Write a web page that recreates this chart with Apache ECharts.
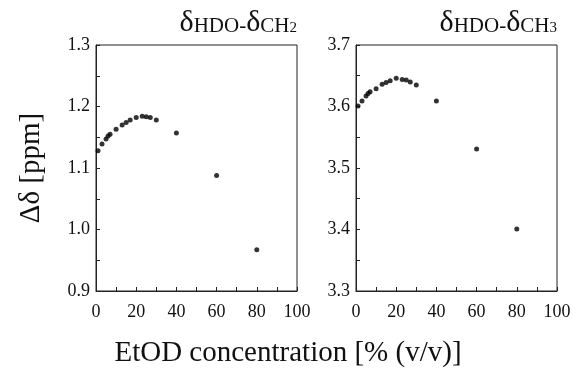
<!DOCTYPE html>
<html>
<head>
<meta charset="utf-8">
<script src="https://cdn.jsdelivr.net/npm/echarts@6/dist/echarts.min.js"></script>
<style>
  html, body { margin: 0; padding: 0; background: #fff; }
  #chart { width: 576px; height: 375px; }
</style>
</head>
<body>
<div id="chart"></div>
<script>
// EtOD concentration, % (v/v)
var concentration = [1, 3, 5, 6, 7, 10, 13, 15, 17, 20, 23, 25, 27, 30, 40, 60, 80];
// delta HDO - delta CH2 (ppm)
var shiftCH2 = [1.128, 1.139, 1.147, 1.152, 1.155, 1.163, 1.170, 1.174, 1.178, 1.182,
                1.184, 1.1835, 1.182, 1.178, 1.157, 1.088, 0.967];
// delta HDO - delta CH3 (ppm)
var shiftCH3 = [3.601, 3.609, 3.617, 3.621, 3.624, 3.629, 3.636, 3.639, 3.642, 3.646,
                3.644, 3.643, 3.640, 3.635, 3.609, 3.531, 3.401];
var xTicks = [0, 20, 40, 60, 80, 100];
var yRangeCH2 = [0.9, 1.3];
var yRangeCH3 = [3.3, 3.7];

var serif = "'Liberation Serif', 'DejaVu Serif', serif";
var ink = '#222';

function pairs(xs, ys) {
  var out = [];
  for (var i = 0; i < xs.length; i++) { out.push([xs[i], ys[i]]); }
  return out;
}

function xAxisFor(gridIndex) {
  return {
    type: 'value', gridIndex: gridIndex,
    min: xTicks[0], max: xTicks[xTicks.length - 1], interval: 20,
    axisLine: { show: true, lineStyle: { color: ink, width: 1 } },
    axisTick: { show: true, inside: true, length: 4, lineStyle: { color: ink } },
    minorTick: { show: true, splitNumber: 2, length: 4, lineStyle: { color: ink } },
    splitLine: { show: false },
    axisLabel: { color: '#111', fontFamily: serif, fontSize: 18, margin: 12 }
  };
}

function yAxisFor(gridIndex, range) {
  return {
    type: 'value', gridIndex: gridIndex,
    min: range[0], max: range[1], interval: 0.1,
    axisLine: { show: true, lineStyle: { color: ink, width: 1 } },
    axisTick: { show: true, inside: true, length: 4, lineStyle: { color: ink } },
    minorTick: { show: true, splitNumber: 2, length: 4, lineStyle: { color: ink } },
    splitLine: { show: false },
    axisLabel: {
      color: '#111', fontFamily: serif, fontSize: 18, margin: 6,
      formatter: function (v) { return v.toFixed(1); }
    }
  };
}

var titleRich = {
  d: { fontFamily: serif, fontSize: 30, fontWeight: 'normal', color: '#111' },
  s: { fontFamily: serif, fontSize: 21, fontWeight: 'normal', color: '#111', padding: [6, 0, 0, 0] },
  sub: { fontFamily: serif, fontSize: 15, fontWeight: 'normal', color: '#111', padding: [10, 0, 0, 0] }
};

var chart = echarts.init(document.getElementById('chart'));
chart.setOption({
  backgroundColor: '#fff',
  animation: false,
  title: [
    { text: '{d|δ}{s|HDO-}{d|δ}{s|CH}{sub|2}', right: 279, top: 8, padding: 0,
      textStyle: { fontWeight: 'normal', rich: titleRich } },
    { text: '{d|δ}{s|HDO-}{d|δ}{s|CH}{sub|3}', right: 19, top: 8, padding: 0,
      textStyle: { fontWeight: 'normal', rich: titleRich } }
  ],
  grid: [
    { left: 96, width: 201, top: 45, height: 246, show: true, borderColor: ink, borderWidth: 1 },
    { left: 356, width: 201, top: 45, height: 246, show: true, borderColor: ink, borderWidth: 1 }
  ],
  xAxis: [xAxisFor(0), xAxisFor(1)],
  yAxis: [
    Object.assign(yAxisFor(0, yRangeCH2), {
      name: 'Δδ [ppm]', nameLocation: 'middle', nameGap: 50,
      nameTextStyle: { fontFamily: serif, fontSize: 29, color: '#111' }
    }),
    yAxisFor(1, yRangeCH3)
  ],
  graphic: [{
    type: 'text', left: 'center', top: 339,
    style: { text: 'EtOD concentration [% (v/v)]', font: '29px ' + serif, fill: '#111' }
  }],
  series: [
    { type: 'scatter', xAxisIndex: 0, yAxisIndex: 0, symbolSize: 5,
      itemStyle: { color: '#000' }, data: pairs(concentration, shiftCH2) },
    { type: 'scatter', xAxisIndex: 1, yAxisIndex: 1, symbolSize: 5,
      itemStyle: { color: '#000' }, data: pairs(concentration, shiftCH3) }
  ]
});
</script>
</body>
</html>
